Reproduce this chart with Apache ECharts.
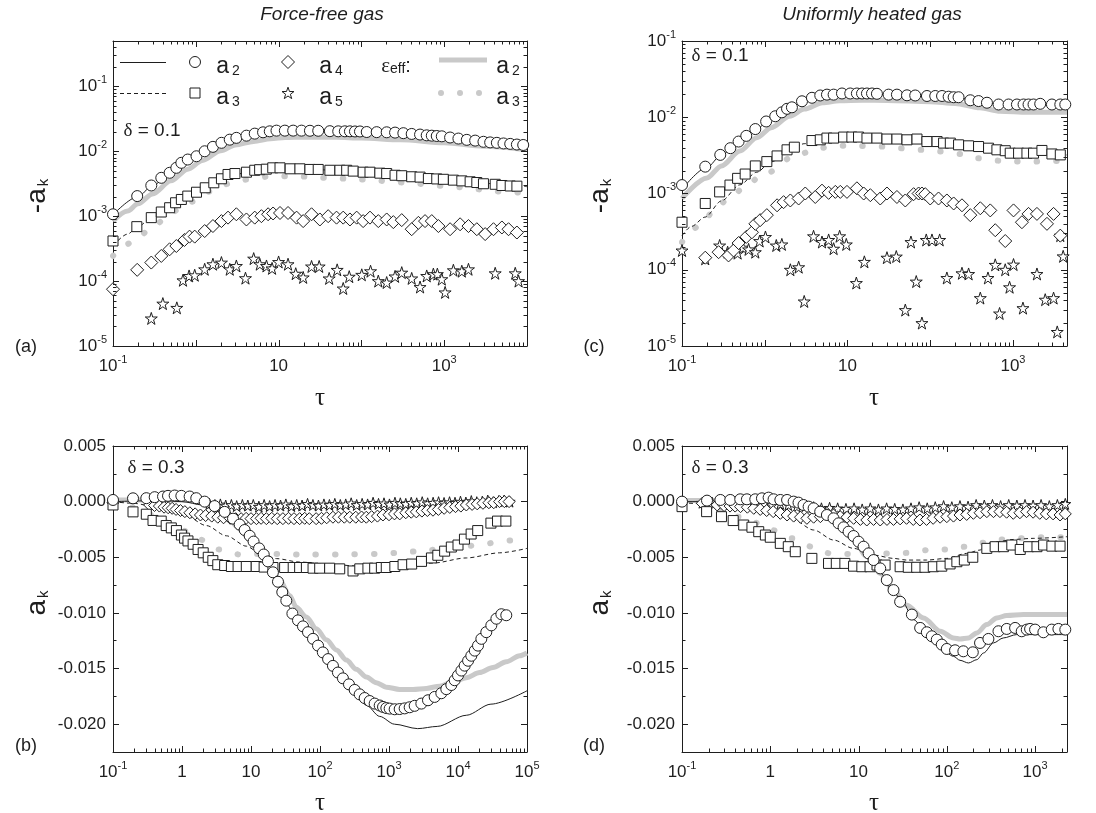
<!DOCTYPE html>
<html><head><meta charset="utf-8">
<script src="https://cdn.jsdelivr.net/npm/echarts@6/dist/echarts.min.js"></script>
<style>html,body{margin:0;padding:0;background:#fff}#c{width:1096px;height:813px}</style>
</head><body><div id="c"></div><script>
// ---------------- DATA ----------------
// Panel (a): force-free gas, delta = 0.1, values are -a_k
const A_CIRC = [[0.1,1.07e-3],[0.196,2.04e-3],[0.29,2.97e-3],[0.383,3.9e-3],[0.483,4.66e-3],[0.582,5.56e-3],[0.669,6.64e-3],[0.80,7.46e-3],[1.02,8.38e-3],[1.28,0.0100],[1.61,0.0117],[2.04,0.0135],[2.57,0.0151],[3.09,0.0161],[4.09,0.0174],[5.15,0.0187],[6.49,0.0196],[7.82,0.0203],[9.43,0.0208],[11.9,0.0208],[15,0.0208],[18.9,0.0208],[23.9,0.0207],[30.1,0.0207],[41.6,0.0204],[52.5,0.0203],[63.1,0.0203],[72.7,0.0203],[83.6,0.0202],[96.1,0.0202],[116,0.0198],[153,0.0197],[202,0.0196],[255,0.0194],[321,0.019],[405,0.0185],[511,0.0181],[615,0.0176],[708,0.0174],[813,0.0172],[935,0.017],[1178,0.0163],[1485,0.0157],[1875,0.015],[2366,0.0146],[2980,0.014],[3590,0.0137],[4325,0.0135],[5200,0.0132],[6270,0.013],[7550,0.0127],[9000,0.0125]];
const A_LINE = [[0.1,1.05e-3],[0.2,2.0e-3],[0.3,2.95e-3],[0.5,4.7e-3],[0.8,7.3e-3],[1.2,0.0097],[2,0.0132],[3,0.016],[5,0.0185],[8,0.0202],[12,0.0207],[20,0.0207],[50,0.0203],[100,0.0200],[300,0.0190],[1000,0.0168],[3000,0.0141],[10000,0.0124]];
const A_EFF2 = [[0.1,8.4e-4],[0.15,1.2e-3],[0.2,1.55e-3],[0.3,2.2e-3],[0.5,3.5e-3],[0.8,5.3e-3],[1.2,7.2e-3],[2,0.0102],[3,0.0125],[5,0.0142],[8,0.0156],[12,0.0163],[20,0.0166],[50,0.0164],[100,0.016],[300,0.0150],[1000,0.0135],[3000,0.0120],[10000,0.0106]];
const A_SQ = [[0.1,4.15e-4],[0.194,6.9e-4],[0.29,9.5e-4],[0.383,1.16e-3],[0.483,1.35e-3],[0.57,1.61e-3],[0.669,1.81e-3],[0.80,2.04e-3],[1.02,2.34e-3],[1.3,2.74e-3],[1.65,3.27e-3],[2.04,3.77e-3],[2.45,4.39e-3],[2.97,4.54e-3],[4.09,4.76e-3],[5.15,5.1e-3],[5.9,5.2e-3],[7.1,5.3e-3],[8.5,5.56e-3],[10.4,5.56e-3],[13.8,5.37e-3],[18.1,5.37e-3],[23.9,5.25e-3],[30.1,5.25e-3],[41.6,5.1e-3],[55,5.1e-3],[66.4,5.1e-3],[79.6,4.95e-3],[105,4.76e-3],[127,4.76e-3],[167,4.6e-3],[202,4.54e-3],[255,4.27e-3],[307,4.2e-3],[405,4.05e-3],[511,4.0e-3],[644,3.8e-3],[813,3.75e-3],[977,3.7e-3],[1291,3.59e-3],[1632,3.5e-3],[2057,3.39e-3],[2477,3.3e-3],[2980,3.16e-3],[4130,3.1e-3],[4975,2.97e-3],[6270,2.92e-3],[7550,2.9e-3]];
const A_DASH = [[0.1,3.5e-4],[0.15,5.3e-4],[0.2,6.9e-4],[0.3,9.7e-4],[0.5,1.42e-3],[0.8,2.0e-3],[1.2,2.6e-3],[2,3.6e-3],[3,4.4e-3],[5,5.0e-3],[8,5.3e-3],[12,5.4e-3],[20,5.3e-3],[50,5.1e-3],[100,4.85e-3],[300,4.25e-3],[1000,3.65e-3],[3000,3.2e-3],[10000,2.85e-3]];
const A_EFF3 = [[0.1,2.44e-4],[0.17,3.92e-4],[0.29,6.4e-4],[0.43,9.2e-4],[0.62,1.27e-3],[0.88,1.67e-3],[1.54,2.43e-3],[2.69,3.27e-3],[4.7,3.77e-3],[8.2,4.13e-3],[14.3,4.13e-3],[25,4.05e-3],[41.7,3.85e-3],[72.7,3.77e-3],[139,3.59e-3],[243,3.35e-3],[405,3.27e-3],[675,3.0e-3],[1125,2.9e-3],[1875,2.74e-3],[3770,2.43e-3],[6270,2.34e-3],[10000,2.28e-3]];
const A_DIA = [[0.1,7.5e-5],[0.196,1.49e-4],[0.29,1.93e-4],[0.383,2.44e-4],[0.483,3.09e-4],[0.582,3.47e-4],[0.73,4.3e-4],[0.84,4.84e-4],[0.97,4.84e-4],[1.28,5.9e-4],[1.61,7.05e-4],[2.04,8.4e-4],[2.45,9.5e-4],[3.09,1.07e-3],[4.09,8.9e-4],[5.15,9.5e-4],[6.2,1.0e-3],[7.47,1.07e-3],[8.58,1.1e-3],[10.4,1.12e-3],[13.0,1.12e-3],[16.5,9.5e-4],[19.8,8.4e-4],[25,1.07e-3],[31.5,8.9e-4],[39.7,1.0e-3],[50.1,9.5e-4],[60.3,9.5e-4],[72.7,8.9e-4],[87.7,9.5e-4],[105,8.4e-4],[127,9.5e-4],[160,8.4e-4],[202,8.9e-4],[243,8.1e-4],[307,8.7e-4],[405,6.3e-4],[488,7.9e-4],[587,8.4e-4],[708,8.4e-4],[851,7.05e-4],[1178,6.3e-4],[1556,7.5e-4],[1963,7.05e-4],[2477,6.3e-4],[3126,5.3e-4],[3938,6.3e-4],[4975,6.7e-4],[5985,6.3e-4],[7550,5.6e-4]];
const A_STAR = [[0.29,2.66e-5],[0.4,4.5e-5],[0.59,3.87e-5],[0.7,1.03e-4],[0.83,1.2e-4],[0.97,1.23e-4],[1.28,1.52e-4],[1.61,1.82e-4],[2.04,1.93e-4],[2.57,1.52e-4],[3.09,1.71e-4],[3.98,1.11e-4],[5.0,2.22e-4],[5.93,1.82e-4],[7.14,1.71e-4],[8.34,1.57e-4],[10.0,1.97e-4],[13.0,1.82e-4],[16.1,1.3e-4],[19.8,1.14e-4],[25,1.68e-4],[30.9,1.68e-4],[40.8,1.1e-4],[51,1.49e-4],[60.3,7.7e-5],[71.3,1.17e-4],[101,1.25e-4],[129,1.42e-4],[160,1.0e-4],[202,9.5e-5],[255,1.18e-4],[307,1.35e-4],[405,1.1e-4],[511,8.1e-5],[615,1.2e-4],[740,1.28e-4],[827,1.28e-4],[935,1.07e-4],[1026,6.7e-5],[1291,1.47e-4],[1632,1.42e-4],[1963,1.52e-4],[4130,1.32e-4],[7210,1.32e-4],[7910,1.0e-4]];

// Panel (c): uniformly heated gas, delta = 0.1, values are -a_k
const C_CIRC = [[0.1,1.29e-3],[0.191,2.25e-3],[0.29,3.21e-3],[0.384,3.93e-3],[0.483,4.8e-3],[0.598,5.7e-3],[0.769,7.0e-3],[1.04,8.8e-3],[1.34,0.0103],[1.61,0.0116],[1.86,0.0129],[2.13,0.0135],[2.82,0.0162],[3.72,0.018],[4.69,0.0193],[5.65,0.0198],[6.8,0.0198],[8.58,0.0205],[10.8,0.0205],[13,0.0205],[15,0.0205],[17.2,0.0205],[19.8,0.0205],[22.7,0.0203],[31.4,0.0198],[39.6,0.0198],[52.4,0.0194],[65.9,0.0193],[91.3,0.019],[115,0.019],[139,0.019],[167,0.0186],[192,0.0183],[220,0.0183],[305,0.0167],[384,0.0163],[485,0.0155],[670,0.0147],[885,0.0147],[1117,0.0147],[1343,0.0147],[1543,0.0147],[1773,0.0147],[2136,0.015],[2958,0.0147],[3735,0.0147],[4290,0.0147]];
const C_LINE = [[0.1,1.13e-3],[0.2,2.2e-3],[0.3,3.2e-3],[0.5,4.9e-3],[0.8,7.1e-3],[1.2,9.6e-3],[2,0.0133],[3,0.0165],[5,0.0192],[8,0.0201],[15,0.0203],[30,0.0199],[100,0.019],[200,0.0182],[400,0.0162],[700,0.0148],[1500,0.0145],[4500,0.0145]];
const C_EFF2 = [[0.1,8.6e-4],[0.2,1.6e-3],[0.3,2.3e-3],[0.5,3.6e-3],[0.8,5.4e-3],[1.2,7.3e-3],[2,0.0103],[3,0.0128],[5,0.0155],[8,0.0165],[15,0.0167],[30,0.0166],[100,0.016],[200,0.0152],[400,0.0133],[700,0.0120],[1500,0.0116],[4500,0.0116]];
const C_SQ = [[0.1,4.2e-4],[0.191,7.4e-4],[0.285,1.05e-3],[0.38,1.29e-3],[0.47,1.58e-3],[0.58,1.8e-3],[0.769,2.3e-3],[1.06,2.62e-3],[1.41,3.11e-3],[1.86,3.74e-3],[2.28,4.05e-3],[3.72,4.95e-3],[4.69,5.06e-3],[5.65,5.33e-3],[6.8,5.33e-3],[8.98,5.5e-3],[11.3,5.5e-3],[13.6,5.5e-3],[17.2,5.33e-3],[22.7,5.33e-3],[30,5.18e-3],[39.6,5.18e-3],[52.4,5.06e-3],[69.2,5.18e-3],[91.3,4.8e-3],[121,4.8e-3],[145,4.58e-3],[175,4.58e-3],[220,4.35e-3],[291,4.22e-3],[384,4.13e-3],[507,3.93e-3],[640,3.74e-3],[807,3.64e-3],[927,3.38e-3],[1169,3.38e-3],[1476,3.38e-3],[1773,3.38e-3],[2240,3.67e-3],[2958,3.3e-3],[3735,3.21e-3]];
const C_DASH = [[0.1,2.8e-4],[0.13,3.7e-4],[0.19,4.9e-4],[0.3,8.0e-4],[0.5,1.3e-3],[0.8,1.9e-3],[1.2,2.6e-3],[2,3.6e-3],[3,4.5e-3],[5,5.1e-3],[10,5.4e-3],[20,5.3e-3],[50,5.0e-3],[100,4.7e-3],[200,4.35e-3],[500,3.9e-3],[1000,3.45e-3],[2000,3.3e-3],[4500,3.2e-3]];
const C_EFF3 = [[0.1,2.3e-4],[0.166,3.8e-4],[0.265,6.7e-4],[0.384,9.0e-4],[0.58,1.22e-3],[0.88,1.66e-3],[2.45,3.2e-3],[4.48,3.93e-3],[7.8,4.22e-3],[13.6,4.22e-3],[24.9,4.13e-3],[41.4,3.93e-3],[75.9,3.74e-3],[132,3.55e-3],[231,3.3e-3],[367,2.9e-3],[641,2.7e-3],[1016,2.62e-3],[1773,2.62e-3],[3097,2.67e-3],[4500,2.67e-3]];
const C_DIA = [[0.191,1.44e-4],[0.277,1.7e-4],[0.365,1.54e-4],[0.42,1.79e-4],[0.483,2.24e-4],[0.6,2.7e-4],[0.7,3.1e-4],[0.77,4.0e-4],[0.88,4.47e-4],[1.06,5.2e-4],[1.41,7.0e-4],[1.69,7.7e-4],[2.04,8.1e-4],[2.57,8.6e-4],[3.09,1.0e-3],[4.08,9.0e-4],[4.92,1.09e-3],[5.92,1.02e-3],[7.13,1.05e-3],[8.19,1.05e-3],[9.86,1.05e-3],[13,1.17e-3],[15.7,1.0e-3],[18.9,9.5e-4],[24.9,8.6e-4],[30,1.0e-3],[39.6,9.0e-4],[50,8.1e-4],[63,9.8e-4],[72.4,1.0e-3],[79.4,1.0e-3],[87.1,9.8e-4],[100,8.6e-4],[126,8.6e-4],[159,8.1e-4],[192,7.4e-4],[242,7.0e-4],[305,5.2e-4],[403,6.4e-4],[532,6.0e-4],[611,3.3e-4],[807,2.38e-4],[1016,6.0e-4],[1284,4.2e-4],[1543,5.4e-4],[1950,5.4e-4],[2576,4.0e-4],[3097,5.4e-4],[3735,2.8e-4]];
const C_STAR = [[0.1,1.79e-4],[0.191,1.39e-4],[0.285,2.08e-4],[0.356,1.7e-4],[0.413,1.79e-4],[0.47,1.65e-4],[0.546,1.95e-4],[0.638,1.85e-4],[0.769,1.7e-4],[0.867,2.38e-4],[1.02,2.69e-4],[1.38,2.08e-4],[1.61,2.15e-4],[2.04,1.0e-4],[2.57,1.08e-4],[3.0,3.84e-5],[3.89,2.75e-4],[4.92,2.31e-4],[5.92,2.46e-4],[6.8,1.89e-4],[8.04,2.75e-4],[9.68,2.15e-4],[12.8,6.7e-5],[16,1.27e-4],[30,1.44e-4],[38.9,1.49e-4],[50,2.96e-5],[58.5,2.31e-4],[67.8,7.0e-5],[79.4,2.0e-5],[89.6,2.46e-4],[105,2.46e-4],[130,2.46e-4],[159,7.8e-5],[242,9.0e-5],[291,8.8e-5],[403,4.25e-5],[499,7.8e-5],[611,1.16e-4],[689,2.67e-5],[807,1.0e-4],[910,5.9e-5],[1016,1.17e-4],[1321,3.14e-5],[1950,8.8e-5],[2455,4.05e-5],[3097,4.25e-5],[3430,1.53e-5],[3735,2.8e-4],[4045,1.5e-4]];

// Panel (b): force-free gas, delta = 0.3, values are a_k
const B_CIRC = [[0.1,0.00015],[0.195,0.0003],[0.304,0.00031],[0.402,0.0004],[0.531,0.00046],[0.627,0.00052],[0.783,0.00055],[0.978,0.00052],[1.29,0.00046],[1.61,0.00031],[2.13,0.0],[2.97,-0.0004],[4.15,-0.00092],[5.49,-0.00153],[6.85,-0.00206],[8.09,-0.00255],[9.57,-0.00307],[10.9,-0.00359],[13.1,-0.0042],[15.3,-0.00475],[17.6,-0.00537],[20.8,-0.00635],[24.6,-0.0072],[28.4,-0.00813],[32.5,-0.0089],[39.8,-0.01006],[48,-0.01067],[56.7,-0.01121],[67,-0.01173],[79.2,-0.01233],[93.6,-0.01294],[110,-0.01355],[131,-0.01415],[154,-0.01476],[182,-0.01536],[215,-0.01588],[263,-0.01642],[318,-0.01692],[376,-0.01732],[444,-0.01765],[525,-0.01792],[620,-0.01815],[733,-0.01832],[819,-0.01845],[915,-0.01855],[1023,-0.0186],[1208,-0.01866],[1428,-0.01864],[1687,-0.01858],[1994,-0.01848],[2356,-0.01835],[2944,-0.01815],[3675,-0.01785],[4590,-0.01755],[5730,-0.01722],[6770,-0.01685],[8000,-0.01648],[8950,-0.01605],[10000,-0.01562],[11200,-0.01518],[12500,-0.01474],[14000,-0.0143],[15600,-0.01385],[17500,-0.01339],[19500,-0.01294],[21800,-0.01233],[25700,-0.01173],[30400,-0.01112],[36000,-0.01052],[42500,-0.01012],[50100,-0.01021]];
const B_LINE = [[0.1,0],[0.5,0.0001],[1,0.0],[2,-0.0003],[3,-0.0008],[5.5,-0.0017],[9.6,-0.0032],[13,-0.0043],[17.6,-0.0056],[24.6,-0.0074],[32.5,-0.0092],[50.7,-0.0111],[79,-0.0127],[124,-0.0142],[193,-0.0156],[301,-0.0170],[469,-0.0183],[733,-0.0193],[1200,-0.0200],[2600,-0.0204],[5000,-0.0202],[13200,-0.0192],[30000,-0.0182],[100000,-0.0170]];
const B_EFF2 = [[0.1,0.00015],[1,0.00015],[1.4,0.0001],[1.8,-0.0001],[2.5,-0.00046],[3.5,-0.001],[4.9,-0.0017],[6.85,-0.00245],[9.57,-0.0034],[13.4,-0.00445],[18.6,-0.00567],[26,-0.00706],[36.3,-0.00844],[45.4,-0.0095],[63.4,-0.01036],[88.5,-0.01142],[124,-0.01242],[173,-0.01333],[241,-0.01424],[336,-0.01506],[469,-0.01576],[655,-0.01627],[914,-0.01667],[1428,-0.01688],[2230,-0.01688],[3480,-0.01679],[5425,-0.01658],[8470,-0.01621],[13200,-0.01582],[20600,-0.01536],[32100,-0.01491],[50100,-0.01439],[78300,-0.01385],[100000,-0.0136]];
const B_DASH = [[0.1,0],[0.195,-0.00015],[0.593,-0.0007],[1.16,-0.0013],[2.25,-0.00215],[4.4,-0.00307],[8.55,-0.004],[13.3,-0.0046],[23.3,-0.00512],[50.7,-0.00543],[154,-0.00567],[469,-0.00583],[1428,-0.00574],[4340,-0.00552],[13200,-0.00506],[40200,-0.0046],[100000,-0.0042]];
const B_SQ = [[0.1,-0.0003],[0.195,-0.00092],[0.304,-0.00113],[0.38,-0.00169],[0.5,-0.00175],[0.59,-0.00215],[0.7,-0.00236],[0.83,-0.0026],[0.98,-0.003],[1.09,-0.00328],[1.22,-0.00353],[1.45,-0.00383],[1.71,-0.0043],[2.03,-0.0046],[2.4,-0.005],[2.8,-0.0053],[3.3,-0.00567],[4.15,-0.00574],[5.2,-0.00583],[6.5,-0.00583],[8.55,-0.00583],[11.9,-0.00583],[15.5,-0.00588],[20.8,-0.00592],[30.7,-0.00592],[40.9,-0.00592],[50.7,-0.00592],[63.5,-0.00592],[79.3,-0.00598],[99,-0.00598],[138,-0.00598],[193,-0.00604],[301,-0.00623],[377,-0.00604],[495,-0.00598],[620,-0.00598],[775,-0.00592],[913,-0.00592],[1215,-0.00583],[1600,-0.00567],[2130,-0.00561],[2960,-0.00537],[4120,-0.00506],[5100,-0.00482],[6400,-0.00445],[8000,-0.00408],[10000,-0.0039],[12400,-0.00337],[15500,-0.00291],[19300,-0.0026],[30000,-0.00193],[37400,-0.00175],[49400,-0.00175]];
const B_EFF3 = [[0.1,-0.00015],[0.195,-0.0005],[0.38,-0.0012],[0.92,-0.00245],[1.8,-0.0034],[3.5,-0.0043],[6.85,-0.00475],[13.3,-0.0047],[26,-0.0047],[50.7,-0.00475],[193,-0.00475],[733,-0.0047],[1428,-0.0046],[2780,-0.00445],[6700,-0.0042],[13200,-0.004],[25800,-0.00377],[45000,-0.00353],[100000,-0.0033]];
const B_DIA = [[0.1,-0.0001],[0.34,-0.0003],[0.4,-0.00035],[0.47,-0.0004],[0.55,-0.0005],[0.63,-0.00055],[0.72,-0.0006],[0.82,-0.0007],[0.95,-0.0008],[1.1,-0.0009],[1.3,-0.001],[1.55,-0.0011],[1.85,-0.0012],[2.2,-0.00125],[2.7,-0.0013],[3.3,-0.0014],[4.0,-0.00145],[5.0,-0.0015],[6.0,-0.00153],[7.2,-0.00153],[8.5,-0.0015],[10,-0.00153],[12,-0.00153],[14,-0.0015],[16.7,-0.00153],[20,-0.0015],[24,-0.00153],[29,-0.00153],[35,-0.0015],[42,-0.00153],[50.7,-0.00153],[60,-0.0015],[70,-0.00153],[88,-0.00153],[105,-0.0015],[125,-0.00145],[154,-0.0014],[185,-0.0014],[225,-0.0014],[270,-0.0014],[330,-0.0014],[400,-0.00138],[469,-0.0014],[560,-0.00135],[680,-0.0013],[817,-0.0012],[1000,-0.00118],[1200,-0.0011],[1430,-0.0011],[1750,-0.001],[2100,-0.00095],[2490,-0.00092],[3000,-0.00085],[3600,-0.0008],[4340,-0.00077],[5200,-0.0007],[6300,-0.0006],[7600,-0.00052],[9200,-0.00045],[11000,-0.0004],[13200,-0.0003],[16000,-0.00025],[19000,-0.0002],[23000,-0.00015],[28000,-0.0001],[33000,-0.0001],[40000,0],[47000,0],[55000,0]];
const B_STAR = [[2.5,-0.0002],[3,-0.0003],[3.6,-0.00025],[4.3,-0.00035],[5.2,-0.0003],[6.2,-0.0004],[7.5,-0.0003],[9,-0.00035],[10.8,-0.0003],[13,-0.00045],[15.5,-0.0003],[18.6,-0.0004],[22.3,-0.0003],[26.8,-0.00035],[32,-0.00025],[38.5,-0.0004],[46,-0.0003],[55,-0.00035],[66,-0.0002],[79,-0.0003],[95,-0.00035],[114,-0.00025],[137,-0.0003],[164,-0.0002],[197,-0.0003],[236,-0.00025],[283,-0.00015],[340,-0.0003],[408,-0.0002],[490,-0.00025],[588,-0.0001],[705,-0.0002],[846,-0.00015],[1015,-0.00025],[1220,-0.0001],[1460,-0.00015],[1750,-0.0002],[2100,-0.0001],[2520,-0.00015],[3030,-0.00005],[3630,-0.00015],[4360,-0.0001],[5230,-0.00005],[6280,-0.00012],[7540,-0.00005],[9050,-0.0001],[10860,0],[13000,-0.00008],[15600,0.00005],[18700,-0.00005],[22500,0],[27000,0.0001],[32400,-0.00005],[38900,0.00005],[46700,0.0001],[56000,0.0]];

// Panel (d): uniformly heated gas, delta = 0.3, values are a_k
const D_CIRC = [[0.1,0],[0.192,0.00009],[0.272,0.00015],[0.352,0.00015],[0.457,0.00021],[0.544,0.00021],[0.676,0.00021],[0.805,0.0003],[0.958,0.00036],[1.09,0.00021],[1.3,0.00015],[1.55,0.00015],[1.84,0],[2.09,-0.00009],[2.38,-0.0003],[2.72,-0.00045],[3.1,-0.0006],[3.68,-0.0009],[4.38,-0.0012],[5.21,-0.0015],[5.94,-0.00195],[6.77,-0.00231],[7.71,-0.0027],[8.78,-0.00309],[10,-0.0036],[11.4,-0.00405],[13,-0.00465],[14.8,-0.00525],[17.6,-0.006],[20.9,-0.00705],[24.9,-0.00795],[29.6,-0.009],[40.2,-0.01015],[49.9,-0.01135],[59.4,-0.01174],[67.6,-0.0121],[77,-0.0124],[87.7,-0.01285],[100,-0.01324],[124,-0.01336],[154,-0.01345],[197,-0.01354],[238,-0.0127],[296,-0.01234],[385,-0.01165],[478,-0.01144],[594,-0.01135],[706,-0.01165],[805,-0.0115],[878,-0.01144],[1000,-0.0115],[1242,-0.01174],[1545,-0.0115],[1838,-0.01144],[2200,-0.0115]];
const D_LINE = [[0.1,0],[1,0],[2,-0.0002],[3,-0.0006],[4.4,-0.0013],[6,-0.0021],[8.8,-0.0033],[12.4,-0.0048],[17.6,-0.0064],[24.9,-0.0081],[31.9,-0.0091],[42.1,-0.0106],[59.4,-0.01195],[84.5,-0.01315],[119,-0.0139],[141,-0.01426],[176,-0.0145],[219,-0.0142],[261,-0.0136],[338,-0.0127],[437,-0.01225],[617,-0.01195],[965,-0.01195],[2300,-0.01195]];
const D_EFF2 = [[0.1,0.0001],[1.55,0.0001],[2.2,-0.00015],[3.1,-0.0006],[4.38,-0.00135],[6.2,-0.00225],[8.78,-0.00345],[12.4,-0.00495],[17.6,-0.00645],[24.9,-0.00795],[34.8,-0.0093],[54.5,-0.01045],[84.5,-0.01165],[119,-0.01225],[141,-0.01234],[176,-0.01225],[219,-0.0118],[284,-0.01105],[368,-0.01045],[478,-0.01024],[738,-0.01015],[1140,-0.01015],[2300,-0.01015]];
const D_DASH = [[0.1,-0.0001],[0.19,-0.0002],[0.457,-0.0005],[1.09,-0.00105],[1.84,-0.00165],[3.1,-0.00255],[5.21,-0.00345],[8.78,-0.0042],[14.8,-0.0048],[24.9,-0.0051],[35,-0.00525],[59,-0.00525],[100,-0.0051],[168,-0.00465],[238,-0.00435],[284,-0.00375],[368,-0.0036],[566,-0.0034],[950,-0.0033],[2300,-0.00315]];
const D_SQ = [[0.1,-0.00045],[0.19,-0.0009],[0.28,-0.00135],[0.38,-0.0017],[0.5,-0.0021],[0.62,-0.0023],[0.74,-0.0027],[0.88,-0.003],[1.0,-0.0032],[1.3,-0.00375],[1.6,-0.00405],[1.92,-0.0045],[2.96,-0.0051],[4.57,-0.00555],[5.6,-0.00555],[7.0,-0.00555],[8.78,-0.0058],[10.9,-0.00585],[13.5,-0.00585],[16.2,-0.0057],[20,-0.0057],[29.6,-0.00585],[36.6,-0.0059],[45.6,-0.0059],[56.6,-0.0059],[70.3,-0.00585],[87.7,-0.0058],[109,-0.0056],[130,-0.0054],[158,-0.00525],[197,-0.005],[284,-0.0042],[353,-0.00405],[438,-0.00405],[545,-0.0039],[679,-0.0043],[845,-0.00405],[1051,-0.00405],[1250,-0.0039],[1550,-0.004],[1919,-0.004]];
const D_EFF3 = [[0.1,0],[0.17,-0.0002],[0.27,-0.00075],[0.44,-0.00135],[0.68,-0.0019],[1.04,-0.00255],[1.76,-0.0033],[2.96,-0.00405],[4.77,-0.00465],[8.0,-0.0047],[13.5,-0.0047],[22.9,-0.00465],[38.2,-0.0046],[61.6,-0.00435],[100,-0.0043],[160,-0.00405],[249,-0.0037],[394,-0.0034],[643,-0.0033],[1051,-0.0032],[2300,-0.0032]];
const D_DIA = [[0.17,-0.00015],[0.21,-0.0002],[0.25,-0.0003],[0.3,-0.00035],[0.35,-0.0004],[0.4,-0.0004],[0.46,-0.00045],[0.55,-0.0005],[0.65,-0.0006],[0.77,-0.0007],[0.91,-0.0008],[1.08,-0.0009],[1.3,-0.00105],[1.55,-0.0012],[1.84,-0.0013],[2.2,-0.0014],[2.6,-0.0015],[3.1,-0.0014],[3.7,-0.00135],[4.4,-0.00105],[5.2,-0.0012],[6.2,-0.00135],[7.4,-0.0014],[8.8,-0.0015],[10.5,-0.0016],[12.4,-0.00165],[14.8,-0.0016],[17.6,-0.00165],[21,-0.0016],[24.9,-0.0016],[29.6,-0.00155],[35,-0.0015],[41.7,-0.0016],[49.6,-0.00165],[59,-0.0016],[70,-0.0015],[84,-0.0014],[100,-0.00135],[119,-0.0013],[141,-0.0012],[168,-0.00115],[200,-0.00105],[238,-0.001],[284,-0.0009],[338,-0.0009],[400,-0.0009],[476,-0.00095],[566,-0.00105],[673,-0.001],[800,-0.0009],[950,-0.00095],[1130,-0.00105],[1340,-0.0011],[1600,-0.0011],[1919,-0.0012],[2200,-0.0011]];
const D_STAR = [[0.17,-0.0001],[0.22,-0.0001],[0.28,-0.00015],[0.35,-0.0002],[0.44,-0.0001],[0.55,-0.0002],[0.68,-0.00015],[0.85,-0.0002],[1.05,-0.0003],[1.3,-0.0002],[1.6,-0.0003],[2.0,-0.00045],[2.5,-0.0004],[3.1,-0.0005],[3.8,-0.0006],[4.7,-0.00055],[5.8,-0.0006],[7.2,-0.00065],[8.9,-0.0006],[11,-0.0007],[13.6,-0.0006],[16.8,-0.0007],[20.8,-0.0006],[25.7,-0.00065],[31.8,-0.0007],[39.3,-0.0006],[48.6,-0.0005],[60,-0.0006],[74,-0.0005],[92,-0.0004],[114,-0.0005],[141,-0.0004],[174,-0.00045],[215,-0.0003],[266,-0.00035],[329,-0.0003],[407,-0.0004],[503,-0.0003],[622,-0.00035],[769,-0.0003],[950,-0.00035],[1170,-0.0003],[1450,-0.0004],[1790,-0.0003],[2200,-0.0002]];

// axis ranges
const X_RANGE = {a:[0.1,1e4], c:[0.1,4500], b:[0.1,1e5], d:[0.1,2300]};
const Y_LOG_RANGE = {a:[1e-5,0.5], c:[1e-5,0.1]};
const Y_LIN_RANGE = [-0.0225, 0.005];
const TITLES = ['Force-free gas','Uniformly heated gas'];

// ---------------- STYLE / LAYOUT ----------------
const INK = '#1e1e1e', GRAY = '#c9c9c9';
const SANS = "'Liberation Sans', Arial, sans-serif";
const SERIF = "'Liberation Serif', 'DejaVu Serif', serif";
const GRIDS = [
  {left:113, top:41, width:414, height:305},   // a
  {left:682, top:41, width:385, height:305},   // c
  {left:113, top:446, width:414, height:306},  // b
  {left:682, top:446, width:385, height:306}   // d
];
const STAR_PATH = 'path://M50,0L61.23,34.55L97.55,34.55L68.17,55.9L79.39,90.45L50,69.1L20.61,90.45L31.83,55.9L2.45,34.55L38.77,34.55Z';

const LABEL_RICH = {
  b:{fontSize:17, fontFamily:SANS, color:INK, lineHeight:24},
  s:{fontSize:11, fontFamily:SANS, color:INK, lineHeight:12, verticalAlign:'top'}
};
function logFmt(showFn){
  return function(v){
    const l = Math.log10(v), e = Math.round(l);
    if (Math.abs(l-e) > 1e-6 || !showFn(e)) return '';
    if (e === 0) return '{b|1}';
    if (e === 1) return '{b|10}';
    return '{b|10}{s|' + e + '}';
  };
}
const linFmt = v => (Math.abs(v/0.005 - Math.round(v/0.005)) > 1e-6) ? '' : (Math.abs(v)<1e-9 ? '0.000' : v.toFixed(3));

const xAxes = [], yAxes = [];
function addAxes(gi, xr, xShow, yType, yr, yShow){
  const line = {show:true, onZero:false, lineStyle:{color:INK, width:1}};
  xAxes.push({type:'log', logBase:10, gridIndex:gi, position:'bottom', min:xr[0], max:xr[1], axisLine:line,
    axisTick:{show:false}, splitLine:{show:false}, minorTick:{show:false},
    axisLabel:{formatter:logFmt(xShow), rich:LABEL_RICH, margin:8, color:INK}});
  xAxes.push({type:'log', logBase:10, gridIndex:gi, position:'top', min:xr[0], max:xr[1], axisLine:line,
    axisTick:{show:false}, splitLine:{show:false}, axisLabel:{show:false}});
  if (yType === 'log'){
    yAxes.push({type:'log', logBase:10, gridIndex:gi, position:'left', min:yr[0], max:yr[1], axisLine:line,
      axisTick:{show:false}, splitLine:{show:false}, minorTick:{show:false},
      axisLabel:{formatter:logFmt(yShow), rich:LABEL_RICH, margin:6, color:INK}});
    yAxes.push({type:'log', logBase:10, gridIndex:gi, position:'right', min:yr[0], max:yr[1], axisLine:line,
      axisTick:{show:false}, splitLine:{show:false}, axisLabel:{show:false}});
  } else {
    const tick = {show:true, inside:true, length:6, lineStyle:{color:INK}};
    const minor = {show:true, splitNumber:2, length:3.5, lineStyle:{color:INK}};
    yAxes.push({type:'value', gridIndex:gi, position:'left', min:yr[0], max:yr[1], axisLine:line,
      axisTick:tick, minorTick:minor, splitLine:{show:false}, minorSplitLine:{show:false},
      axisLabel:{formatter:linFmt, fontSize:17, fontFamily:SANS, color:INK, margin:7}});
    yAxes.push({type:'value', gridIndex:gi, position:'right', min:yr[0], max:yr[1], axisLine:line,
      axisTick:tick, minorTick:minor, splitLine:{show:false}, minorSplitLine:{show:false},
      axisLabel:{show:false}});
  }
}
const odd = e => Math.abs(e % 2) === 1, all = () => true;
addAxes(0, X_RANGE.a, odd, 'log', Y_LOG_RANGE.a, all);
addAxes(1, X_RANGE.c, odd, 'log', Y_LOG_RANGE.c, all);
addAxes(2, X_RANGE.b, all, 'lin', Y_LIN_RANGE);
addAxes(3, X_RANGE.d, all, 'lin', Y_LIN_RANGE);

function logTicks(min, max){
  const out = [];
  for (let e = Math.floor(Math.log10(min)); e <= Math.ceil(Math.log10(max)); e++)
    for (let k = 1; k <= 9; k++){
      const v = k*Math.pow(10,e);
      if (v >= min*0.9999 && v <= max*1.0001) out.push([v, k===1 ? 1 : 0]);
    }
  return out;
}
function tickSeries(gi, xr, yr, yIsLog){
  const data = [];
  logTicks(xr[0], xr[1]).forEach(t => data.push([t[0], yIsLog ? yr[0] : 0, t[1], 0]));
  if (yIsLog) logTicks(yr[0], yr[1]).forEach(t => data.push([xr[0], t[0], t[1], 1]));
  return {type:'custom', xAxisIndex:2*gi, yAxisIndex:2*gi, clip:false, silent:true, z:10, data,
    renderItem(params, api){
      const cs = params.coordSys;
      const p = api.coord([api.value(0), api.value(1)]);
      const len = api.value(2) ? 6 : 3.5;
      const st = {stroke:INK, lineWidth:1};
      if (api.value(3) === 0){
        const x = Math.round(p[0]) + 0.5, yb = cs.y + cs.height, yt = cs.y;
        return {type:'group', children:[
          {type:'line', shape:{x1:x, y1:yb, x2:x, y2:yb-len}, style:st},
          {type:'line', shape:{x1:x, y1:yt, x2:x, y2:yt+len}, style:st}]};
      }
      const y = Math.round(p[1]) + 0.5, xl = cs.x, xr2 = cs.x + cs.width;
      return {type:'group', children:[
        {type:'line', shape:{x1:xl, y1:y, x2:xl+len, y2:y}, style:st},
        {type:'line', shape:{x1:xr2, y1:y, x2:xr2-len, y2:y}, style:st}]};
    }};
}

function panelSeries(gi, d, sz){
  const ax = {xAxisIndex:2*gi, yAxisIndex:2*gi, silent:true};
  const ln = (data, ls, z) => Object.assign({type:'line', data, showSymbol:false, smooth:0.3, smoothMonotone:'x', lineStyle:ls, z, animation:false}, ax);
  const sc = (data, symbol, size, z) => Object.assign({type:'scatter', data, symbol, symbolSize:size, z,
    itemStyle:{color:'#fff', borderColor:INK, borderWidth:1, opacity:1}, animation:false}, ax);
  return [
    ln(d.eff2, {color:GRAY, width:5}, 1),
    ln(d.eff3, {color:GRAY, width:6, type:[0.5,19], cap:'round'}, 1),
    ln(d.line, {color:INK, width:1}, 2),
    ln(d.dash, {color:INK, width:1, type:[4,3]}, 2),
    sc(d.star, STAR_PATH, sz.star, 3),
    sc(d.dia, 'diamond', sz.dia, 4),
    sc(d.sq, 'rect', sz.sq, 5),
    sc(d.circ, 'circle', sz.circ, 6)
  ];
}

const series = [].concat(
  panelSeries(0, {eff2:A_EFF2, eff3:A_EFF3, line:A_LINE, dash:A_DASH, star:A_STAR, dia:A_DIA, sq:A_SQ, circ:A_CIRC}, {star:12, dia:[13,13], sq:10, circ:11}),
  panelSeries(1, {eff2:C_EFF2, eff3:C_EFF3, line:C_LINE, dash:C_DASH, star:C_STAR, dia:C_DIA, sq:C_SQ, circ:C_CIRC}, {star:12, dia:[13,13], sq:10, circ:11}),
  panelSeries(2, {eff2:B_EFF2, eff3:B_EFF3, line:B_LINE, dash:B_DASH, star:B_STAR, dia:B_DIA, sq:B_SQ, circ:B_CIRC}, {star:11, dia:[12,12], sq:10, circ:11}),
  panelSeries(3, {eff2:D_EFF2, eff3:D_EFF3, line:D_LINE, dash:D_DASH, star:D_STAR, dia:D_DIA, sq:D_SQ, circ:D_CIRC}, {star:11, dia:[12,12], sq:10, circ:11}),
  [tickSeries(0, X_RANGE.a, Y_LOG_RANGE.a, true), tickSeries(1, X_RANGE.c, Y_LOG_RANGE.c, true),
   tickSeries(2, X_RANGE.b, Y_LIN_RANGE, false), tickSeries(3, X_RANGE.d, Y_LIN_RANGE, false)]
);

// ---------------- TEXT & LEGEND (graphic) ----------------
function T(x, y, text, rich, extra){
  return {type:'text', x, y, silent:true, style:Object.assign({text, rich, fill:INK, align:'center', verticalAlign:'middle'}, extra||{})};
}
const R = {
  a:{fontSize:23, fontFamily:SANS, color:INK},
  s:{fontSize:14, fontFamily:SANS, color:INK, verticalAlign:'bottom', padding:[0,0,0,3]},
  g:{fontSize:19, fontFamily:SERIF, color:INK},
  n:{fontSize:19, fontFamily:SANS, color:INK},
  t:{fontSize:25, fontFamily:SERIF, color:INK},
  m:{fontSize:28, fontFamily:SANS, color:INK},
  k:{fontSize:15, fontFamily:SANS, color:INK, verticalAlign:'bottom', padding:[0,0,0,2]},
  p:{fontSize:18, fontFamily:SANS, color:INK},
  e:{fontSize:21, fontFamily:SERIF, color:INK},
  f:{fontSize:14, fontFamily:SANS, color:INK, verticalAlign:'bottom'},
  c:{fontSize:20, fontFamily:SANS, color:INK}
};
const graphics = [];
graphics.push(T(322, 15, TITLES[0], null, {font:"italic 19px 'Liberation Sans', Arial, sans-serif"}));
graphics.push(T(872, 15, TITLES[1], null, {font:"italic 19px 'Liberation Sans', Arial, sans-serif"}));
[[320,398],[874,398],[320,803],[874,803]].forEach(p => graphics.push(T(p[0], p[1], '{t|τ}', R)));
graphics.push(Object.assign(T(37, 196, '{m|-a}{k|k}', R), {rotation:Math.PI/2}));
graphics.push(Object.assign(T(600, 196, '{m|-a}{k|k}', R), {rotation:Math.PI/2}));
graphics.push(Object.assign(T(37, 603, '{m|a}{k|k}', R), {rotation:Math.PI/2}));
graphics.push(Object.assign(T(600, 603, '{m|a}{k|k}', R), {rotation:Math.PI/2}));
graphics.push(T(26, 347, '{p|(a)}', R)); graphics.push(T(594, 347, '{p|(c)}', R));
graphics.push(T(26, 746, '{p|(b)}', R)); graphics.push(T(594, 746, '{p|(d)}', R));
graphics.push(T(152, 131, '{g|δ}{n| = 0.1}', R)); graphics.push(T(720, 56, '{g|δ}{n| = 0.1}', R));
graphics.push(T(156, 468, '{g|δ}{n| = 0.3}', R)); graphics.push(T(720, 468, '{g|δ}{n| = 0.3}', R));
const ls = {stroke:INK, lineWidth:1, fill:'#fff'};
graphics.push({type:'line', shape:{x1:120, y1:62.5, x2:166, y2:62.5}, style:{stroke:INK, lineWidth:1}});
graphics.push({type:'line', shape:{x1:120, y1:93.5, x2:166, y2:93.5}, style:{stroke:INK, lineWidth:1, lineDash:[4,3]}});
graphics.push({type:'circle', shape:{cx:195, cy:62, r:5.5}, style:ls});
graphics.push({type:'rect', shape:{x:190, y:88, width:10, height:10}, style:ls});
graphics.push({type:'polygon', shape:{points:[[288,55.5],[294.5,62],[288,68.5],[281.5,62]]}, style:ls});
(function(){ const pts=[], cx=288, cy=93.5; for(let i=0;i<10;i++){ const r = i%2 ? 2.5 : 6.3, a = -Math.PI/2 + i*Math.PI/5; pts.push([cx + r*Math.cos(a), cy + r*Math.sin(a)]); }
  graphics.push({type:'polygon', shape:{points:pts}, style:ls}); })();
graphics.push(T(228, 67, '{a|a}{s|2}', R)); graphics.push(T(228, 98, '{a|a}{s|3}', R));
graphics.push(T(331, 67, '{a|a}{s|4}', R)); graphics.push(T(331, 98, '{a|a}{s|5}', R));
graphics.push(T(396, 66, '{e|ε}{f|eff}{c|:}', R));
graphics.push({type:'line', shape:{x1:439, y1:60, x2:487, y2:60}, style:{stroke:GRAY, lineWidth:5}});
[441,460,479].forEach(x => graphics.push({type:'circle', shape:{cx:x, cy:93, r:3}, style:{fill:GRAY}}));
graphics.push(T(508, 67, '{a|a}{s|2}', R)); graphics.push(T(508, 98, '{a|a}{s|3}', R));

const chart = echarts.init(document.getElementById('c'), null, {renderer:'canvas'});
chart.setOption({
  animation:false, backgroundColor:'#fff',
  grid: GRIDS.map(g => Object.assign({containLabel:false}, g)),
  xAxis: xAxes, yAxis: yAxes, series, graphic: graphics
});
</script></body></html>
